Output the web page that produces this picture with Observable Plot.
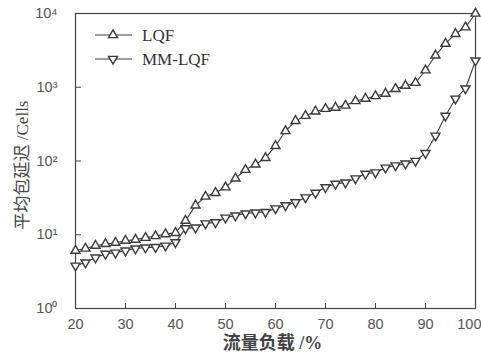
<!DOCTYPE html>
<html>
<head>
<meta charset="utf-8">
<script src="https://cdn.jsdelivr.net/npm/d3@7"></script>
<script src="https://cdn.jsdelivr.net/npm/@observablehq/plot@0.6"></script>
<style>
  html, body { margin: 0; padding: 0; background: #fff; }
  #wrap { position: relative; width: 481px; height: 355px; }
  #legend { position: absolute; left: 0; top: 0; pointer-events: none; }
</style>
</head>
<body>
<div id="wrap"></div>
<script>
// ---- data ----
const loads = [20,22,24,26,28,30,32,34,36,38,40,42,44,46,48,50,52,54,56,58,60,62,64,66,68,70,72,74,76,78,80,82,84,86,88,90,92,94,96,98,100];
const lqf = [6.1,6.5,7.1,7.5,7.8,8.3,8.6,9.1,9.6,10.2,10.6,15.5,25,33,37,44,58,76,90,110,160,255,350,410,470,510,530,565,650,700,760,820,950,1050,1150,1700,2700,3900,5300,6500,10000];
const mmlqf = [3.8,4.2,4.9,5.5,5.7,6.1,6.5,6.7,6.8,7.1,7.9,12.2,12.5,14.2,14.7,17,18.2,19.4,20,20.3,22.7,25,27.5,32,37,44,49,51,58,67,70,81,87,92,100,128,220,410,700,960,2300];
const seriesNames = ["LQF", "MM-LQF"];
const xTicks = [20,30,40,50,60,70,80,90,100];
const yTicks = [1,10,100,1000,10000];
const supers = {"0":"\u2070","1":"\u00b9","2":"\u00b2","3":"\u00b3","4":"\u2074"};
const xLabel = "流量负载 /%";
const yLabel = "平均包延迟 /Cells";

const rows = [];
loads.forEach((x, i) => {
  rows.push({x, v: lqf[i], s: seriesNames[0]});
  rows.push({x, v: mmlqf[i], s: seriesNames[1]});
});

function tri(down) {
  return {
    draw(ctx, size) {
      const r = Math.sqrt(size / Math.PI);
      const s = r * 2;
      const h = s * Math.sqrt(3) / 2;
      const k = down ? -1 : 1;
      ctx.moveTo(0, -k * h * 2 / 3);
      ctx.lineTo(s / 2, k * h / 3);
      ctx.lineTo(-s / 2, k * h / 3);
      ctx.closePath();
    }
  };
}
const upTri = tri(false), downTri = tri(true);
const ink = "#3a3a3a";
const lastTick = xTicks[xTicks.length - 1];

const chart = Plot.plot({
  width: 481,
  height: 355,
  marginLeft: 75,
  marginRight: 6,
  marginTop: 13,
  marginBottom: 47,
  style: {fontFamily: "'Liberation Sans', Arial, sans-serif", fontSize: "14px", color: "#444", background: "#fff"},
  x: {domain: [20, 100]},
  y: {type: "log", domain: [1, 10000]},
  marks: [
    Plot.frame({stroke: "#444", strokeWidth: 1.2}),
    Plot.axisX(xTicks, {tickSize: -5, tickPadding: 15, stroke: "#444", label: null, fontSize: 14.5, fill: "#555",
      tickFormat: d => d === lastTick ? "" : String(d)}),
    Plot.text([lastTick], {x: d => d, frameAnchor: "bottom", textAnchor: "end", lineAnchor: "top", dx: 6, dy: 10, text: d => String(d),
      fontSize: 14.5, fill: "#555"}),
    Plot.axisY(yTicks, {tickSize: -6, tickPadding: 24, stroke: "#444", label: null, fontSize: 14.5, fill: "#555",
      tickFormat: d => "10" + supers[String(Math.round(Math.log10(d)))]}),
    Plot.text([xLabel], {frameAnchor: "bottom", dx: -3, dy: 40, text: d => d, fontSize: 18, fontWeight: "bold", fill: "#444",
      fontFamily: "'Liberation Serif', 'Noto Sans CJK SC', serif"}),
    Plot.text([yLabel], {frameAnchor: "left", textAnchor: "middle", dx: -53, dy: 4, rotate: -90, text: d => d, fontSize: 17, fill: "#444",
      fontFamily: "'Liberation Serif', 'Noto Sans CJK SC', serif"}),
    Plot.line(rows, {x: "x", y: "v", z: "s", stroke: ink, strokeWidth: 1.1}),
    Plot.dot(rows.filter(d => d.s === "LQF"), {x: "x", y: "v", symbol: upTri, r: 4.5, stroke: ink, strokeWidth: 1.4, fill: "#fff"}),
    Plot.dot(rows.filter(d => d.s === "MM-LQF"), {x: "x", y: "v", symbol: downTri, r: 4.5, stroke: ink, strokeWidth: 1.4, fill: "#fff"})
  ]
});
document.getElementById("wrap").appendChild(chart);

// legend overlay
const ns = "http://www.w3.org/2000/svg";
const lg = document.createElementNS(ns, "svg");
lg.setAttribute("id", "legend");
lg.setAttribute("width", 481);
lg.setAttribute("height", 355);
const legRows = [{name: seriesNames[0], sym: upTri, y: 35}, {name: seriesNames[1], sym: downTri, y: 59}];
legRows.forEach(r => {
  const line = document.createElementNS(ns, "line");
  line.setAttribute("x1", 95); line.setAttribute("x2", 132);
  line.setAttribute("y1", r.y); line.setAttribute("y2", r.y);
  line.setAttribute("stroke", ink); line.setAttribute("stroke-width", 1.1);
  lg.appendChild(line);
  const p = document.createElementNS(ns, "path");
  p.setAttribute("d", d3.symbol(r.sym, 4.5 * 4.5 * Math.PI)());
  p.setAttribute("transform", `translate(113,${r.y})`);
  p.setAttribute("fill", "#fff"); p.setAttribute("stroke", ink); p.setAttribute("stroke-width", 1.4);
  lg.appendChild(p);
  const t = document.createElementNS(ns, "text");
  t.setAttribute("x", 142); t.setAttribute("y", r.y + 6);
  t.setAttribute("font-family", "'Liberation Serif', 'Times New Roman', serif");
  t.setAttribute("font-size", 17);
  t.setAttribute("fill", "#333");
  t.textContent = r.name;
  lg.appendChild(t);
});
document.getElementById("wrap").appendChild(lg);
</script>
</body>
</html>
